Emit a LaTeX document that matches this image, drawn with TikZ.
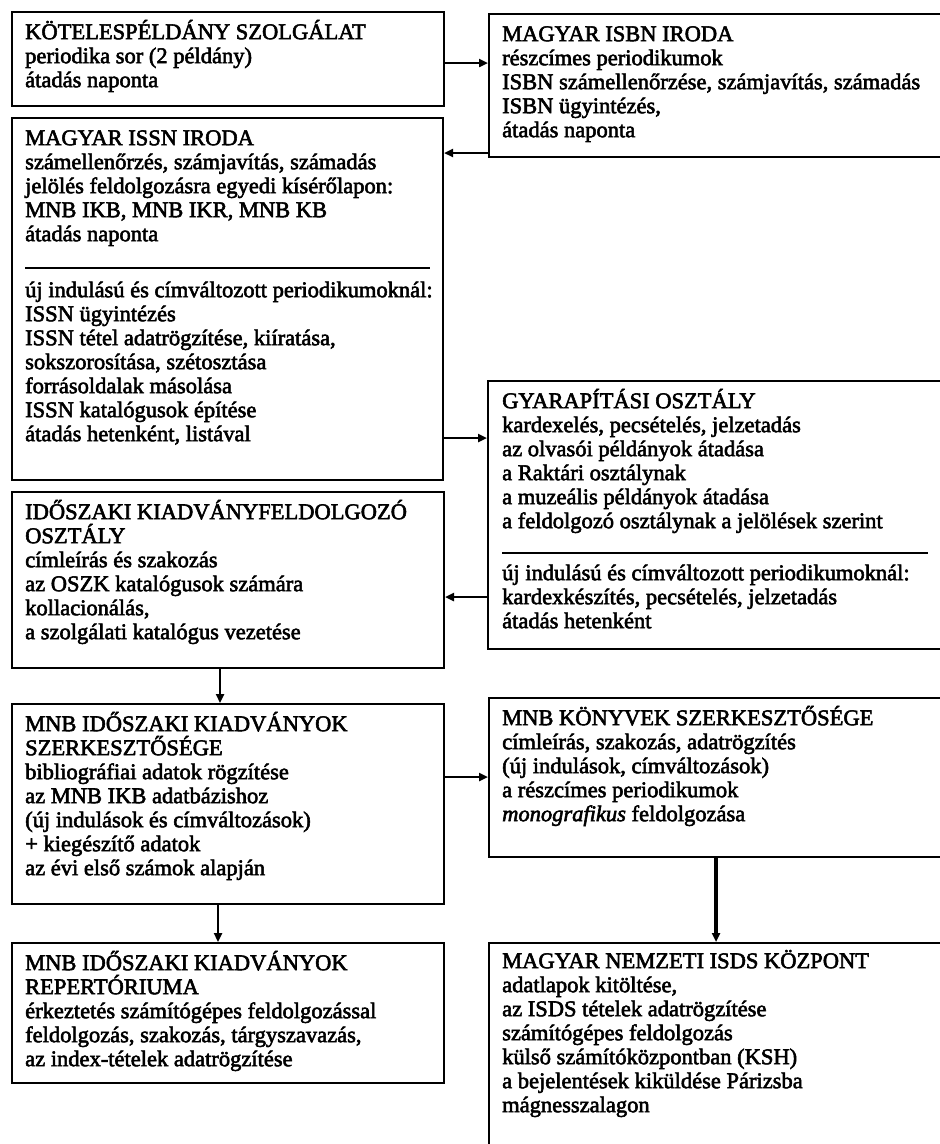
\documentclass[tikz,border=0pt]{standalone}
\usepackage{fontspec}
\setmainfont{Liberation Serif}
\usetikzlibrary{arrows.meta}
\newcommand\heavytext[2]{\special{pdf:literal direct 2 Tr 0.55 w}\parbox[t]{#1}{\raggedright #2}\special{pdf:literal direct 0 Tr}}
\begin{document}
\begin{tikzpicture}[x=1pt,y=-1pt,
  box/.style={draw, line width=2pt, anchor=north west, inner sep=0pt},
  txt/.style={anchor=north west, inner sep=0pt, text height=0pt, font=\fontsize{22.5}{24}\selectfont},
  arr/.style={line width=2.8pt, -{Triangle[length=9pt,width=8pt]}},
  sepline/.style={line width=1.3pt}]
\useasboundingbox (0,0) rectangle (940,1144);
\fill[white] (0,0) rectangle (940,1144);
\clip (0,0) rectangle (940,1144);
% boxes
\node[box, minimum width=432pt, minimum height=94pt] (kotel) at (11,11) {};
\node[box, minimum width=480pt, minimum height=143pt] (isbn) at (488,13) {};
\node[box, minimum width=431pt, minimum height=362pt] (issn) at (11,117) {};
\node[box, minimum width=480pt, minimum height=268pt] (gyar) at (487,380) {};
\node[box, minimum width=432pt, minimum height=176pt] (ido) at (11,491) {};
\node[box, minimum width=432pt, minimum height=200pt] (iksz) at (11,703) {};
\node[box, minimum width=480pt, minimum height=159pt] (konyv) at (488,697) {};
\node[box, minimum width=432pt, minimum height=140pt] (repert) at (11,942) {};
\node[box, minimum width=480pt, minimum height=260pt] (isds) at (488,942) {};
% texts
\node[txt] (kotelT) at (25,39) {\heavytext{420pt}{
KÖTELESPÉLDÁNY SZOLGÁLAT\\
periodika sor (2 példány)\\
átadás naponta}};
\node[txt] (isbnT) at (502,41) {\heavytext{440pt}{
MAGYAR ISBN IRODA\\
részcímes periodikumok\\
ISBN számellenőrzése, számjavítás, számadás\\
ISBN ügyintézés,\\
átadás naponta}};
\node[txt] (issnT) at (25,145) {\heavytext{420pt}{
MAGYAR ISSN IRODA\\
számellenőrzés, számjavítás, számadás\\
jelölés feldolgozásra egyedi kísérőlapon:\\
MNB IKB, MNB IKR, MNB KB\\
átadás naponta}};
\coordinate (issnSepA) at (25,268);
\coordinate (issnSepB) at (430,268);
\draw[sepline] (issnSepA) -- (issnSepB);
\node[txt] (issnT2) at (25,297) {\heavytext{420pt}{
új indulású és címváltozott periodikumoknál:\\
ISSN ügyintézés\\
ISSN tétel adatrögzítése, kiíratása,\\
sokszorosítása, szétosztása\\
forrásoldalak másolása\\
ISSN katalógusok építése\\
átadás hetenként, listával}};
\node[txt] (gyarT) at (502,408) {\heavytext{440pt}{
GYARAPÍTÁSI OSZTÁLY\\
kardexelés, pecsételés, jelzetadás\\
az olvasói példányok átadása\\
a Raktári osztálynak\\
a muzeális példányok átadása\\
a feldolgozó osztálynak a jelölések szerint}};
\coordinate (gyarSepA) at (502,553);
\coordinate (gyarSepB) at (928,553);
\draw[sepline] (gyarSepA) -- (gyarSepB);
\node[txt] (gyarT2) at (502,580) {\heavytext{440pt}{
új indulású és címváltozott periodikumoknál:\\
kardexkészítés, pecsételés, jelzetadás\\
átadás hetenként}};
\node[txt] (idoT) at (25,519) {\heavytext{420pt}{
IDŐSZAKI KIADVÁNYFELDOLGOZÓ\\
OSZTÁLY\\
címleírás és szakozás\\
az OSZK katalógusok számára\\
kollacionálás,\\
a szolgálati katalógus vezetése}};
\node[txt] (ikszT) at (25,731) {\heavytext{420pt}{
MNB IDŐSZAKI KIADVÁNYOK\\
SZERKESZTŐSÉGE\\
bibliográfiai adatok rögzítése\\
az MNB IKB adatbázishoz\\
(új indulások és címváltozások)\\
+ kiegészítő adatok\\
az évi első számok alapján}};
\node[txt] (konyvT) at (502,725) {\heavytext{440pt}{
MNB KÖNYVEK SZERKESZTŐSÉGE\\
címleírás, szakozás, adatrögzítés\\
(új indulások, címváltozások)\\
a részcímes periodikumok\\
\textit{monografikus} feldolgozása}};
\node[txt] (repertT) at (25,970) {\heavytext{420pt}{
MNB IDŐSZAKI KIADVÁNYOK\\
REPERTÓRIUMA\\
érkeztetés számítógépes feldolgozással\\
feldolgozás, szakozás, tárgyszavazás,\\
az index-tételek adatrögzítése}};
\node[txt] (isdsT) at (502,968) {\heavytext{440pt}{
MAGYAR NEMZETI ISDS KÖZPONT\\
adatlapok kitöltése,\\
az ISDS tételek adatrögzítése\\
számítógépes feldolgozás\\
külső számítóközpontban (KSH)\\
a bejelentések kiküldése Párizsba\\
mágnesszalagon}};
% connectors
\draw[arr] (kotel.east |- 0,63) -- (isbn.west |- 0,63);
\draw[arr] (isbn.west |- 0,153) -- (issn.east |- 0,153);
\draw[arr] (issn.east |- 0,438) -- (gyar.west |- 0,438);
\draw[arr] (gyar.west |- 0,597) -- (ido.east |- 0,597);
\draw[arr] (ido.south -| 220,0) -- (iksz.north -| 220,0);
\draw[arr] (iksz.east |- 0,777) -- (konyv.west |- 0,777);
\draw[arr] (iksz.south -| 218,0) -- (repert.north -| 218,0);
\draw[arr, line width=4.2pt] (konyv.south -| 716,0) -- (isds.north -| 716,0);
\end{tikzpicture}
\end{document}
